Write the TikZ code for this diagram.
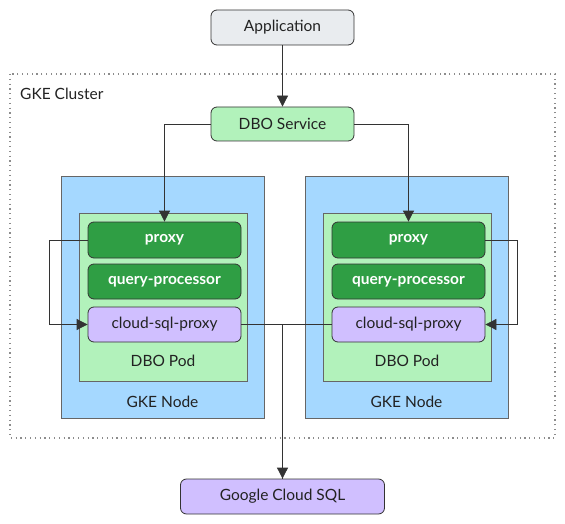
\documentclass[tikz,border=0pt]{standalone}
\usepackage{fontspec}
\setmainfont{Lato}
\usetikzlibrary{arrows.meta}
\definecolor{grayfill}{HTML}{E9ECEF}
\definecolor{greenlt}{HTML}{B2F2BB}
\definecolor{bluelt}{HTML}{A5D8FF}
\definecolor{greendk}{HTML}{2F9E44}
\definecolor{violetlt}{HTML}{D0BFFF}
\definecolor{edge}{HTML}{333333}
\definecolor{txt}{HTML}{222222}
\tikzset{
  box/.style={draw=edge, line width=0.8pt, rounded corners=6pt, text=txt, font=\fontsize{15.5}{18}\selectfont, inner sep=0pt},
  cont/.style={draw=edge!75, line width=0.9pt, inner sep=0pt},
  lbl/.style={text=txt, font=\fontsize{15.5}{18}\selectfont, inner sep=0pt},
  dk/.style={box, fill=greendk, text=white, font=\fontsize{15.5}{18}\selectfont\bfseries},
  conn/.style={draw=edge, line width=0.8pt},
  arr/.style={conn, -{Triangle[length=11pt,width=11pt]}},
}
\begin{document}
\begin{tikzpicture}[x=1pt,y=-1pt]
\useasboundingbox (0,0) rectangle (565,524);
% cluster
\draw[draw=gray!90, line width=1.2pt, dash pattern=on 1.2pt off 3.6pt] (10,74) rectangle (555,438);
\node[lbl, anchor=west] (cl) at (20,94) {GKE Cluster};
% top
\node[box, fill=grayfill, minimum width=143pt, minimum height=35pt] (app) at (282.5,27.5) {Application};
\node[box, fill=greenlt, minimum width=143pt, minimum height=34pt] (svc) at (282.5,124) {DBO Service};
% left node
\node[cont, fill=bluelt, minimum width=203pt, minimum height=242pt] (ln) at (162.5,297) {};
\node[lbl] (lnl) at (162.5,402) {GKE Node};
\node[cont, fill=greenlt, minimum width=168pt, minimum height=168pt] (lp) at (163,297) {};
\node[lbl] (lpl) at (163,361) {DBO Pod};
\node[dk, minimum width=153pt, minimum height=36pt] (lpx) at (164.5,240) {proxy};
\node[dk, minimum width=153pt, minimum height=35pt] (lqp) at (164.5,281.5) {query-processor};
\node[box, fill=violetlt, minimum width=153pt, minimum height=35pt] (lcsp) at (164.5,324.5) {cloud-sql-proxy};
% right node
\node[cont, fill=bluelt, minimum width=203pt, minimum height=242pt] (rn) at (406.5,297) {};
\node[lbl] (rnl) at (406.5,402) {GKE Node};
\node[cont, fill=greenlt, minimum width=168pt, minimum height=168pt] (rp) at (407,297) {};
\node[lbl] (rpl) at (407,361) {DBO Pod};
\node[dk, minimum width=153pt, minimum height=36pt] (rpx) at (408.5,240) {proxy};
\node[dk, minimum width=153pt, minimum height=35pt] (rqp) at (408.5,281.5) {query-processor};
\node[box, fill=violetlt, minimum width=153pt, minimum height=35pt] (rcsp) at (408.5,324.5) {cloud-sql-proxy};
% bottom
\node[box, fill=violetlt, minimum width=204pt, minimum height=35pt] (gcs) at (282.5,496.5) {Google Cloud SQL};
% connectors
\draw[arr] (app) -- (svc);
\draw[arr] (svc.west) -| (lpx.north);
\draw[arr] (svc.east) -| (rpx.north);
\draw[arr] (lpx.west) -- ++(-38,0) |- (lcsp.west);
\draw[arr] (rpx.east) -- ++(32,0) |- (rcsp.east);
\draw[conn] (rcsp.west) -| (gcs.north);
\draw[arr] (lcsp.east) -| (gcs.north);
\end{tikzpicture}
\end{document}
